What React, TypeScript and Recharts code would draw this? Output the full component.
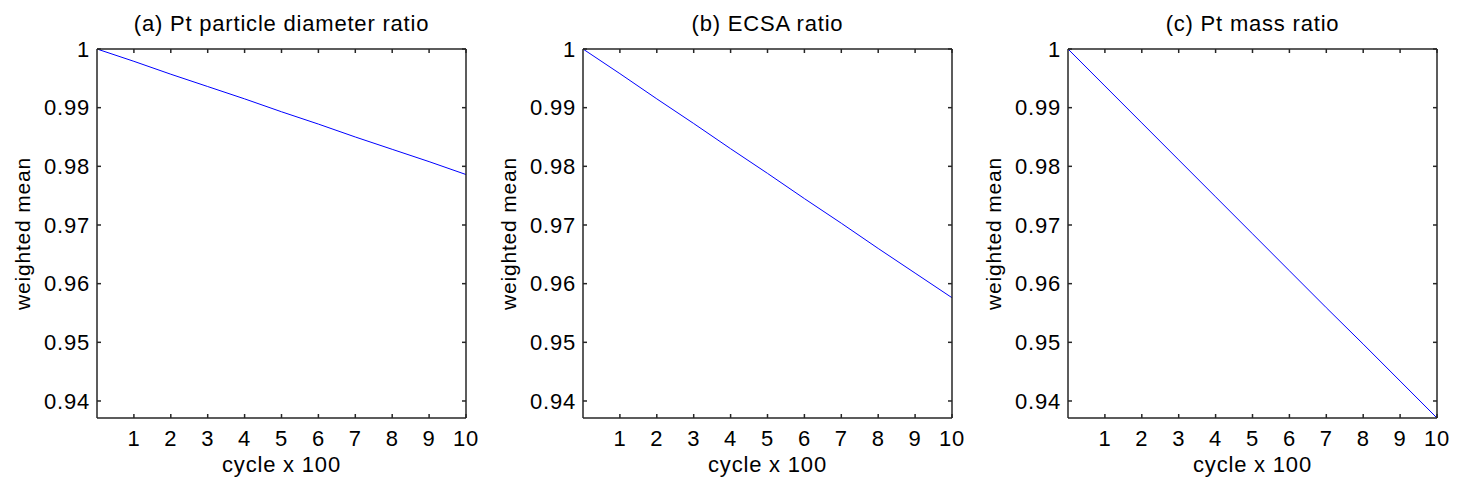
import { LineChart, Line, XAxis, YAxis } from "recharts";

// cycle number in hundreds
const cycles = [0, 1, 2, 3, 4, 5, 6, 7, 8, 9, 10];

// weighted means
const diameterRatio = [1.0, 0.9979, 0.9957, 0.9936, 0.9915, 0.9893, 0.9872, 0.985, 0.9829, 0.9808, 0.9786];
const ecsaRatio = [1.0, 0.9958, 0.9915, 0.9873, 0.983, 0.9788, 0.9745, 0.9703, 0.966, 0.9618, 0.9576];
const massRatio = [1.0, 0.9937, 0.9874, 0.9811, 0.9748, 0.9685, 0.9622, 0.9559, 0.9497, 0.9434, 0.9371];

const xTicks = [1, 2, 3, 4, 5, 6, 7, 8, 9, 10];
const yTicks = [0.94, 0.95, 0.96, 0.97, 0.98, 0.99, 1];

const titles = ["(a) Pt particle diameter ratio", "(b) ECSA ratio", "(c) Pt mass ratio"];
const panels = [diameterRatio, ecsaRatio, massRatio];

const FONT = "'Liberation Sans', Arial, Helvetica, sans-serif";
const AXIS = "#262626";
const tickStyle = { fill: "#000", fontSize: 22 };

const YTitle = ({ viewBox }: any) => {
  const x = viewBox.x + viewBox.width - 67;
  const y = viewBox.y + viewBox.height / 2;
  return (
    <text x={x} y={y} transform={`rotate(-90 ${x} ${y})`} textAnchor="middle" fontSize={21} fill="#000">
      weighted mean
    </text>
  );
};

function Panel({ title, values }: { title: string; values: number[] }) {
  const data = cycles.map((c, i) => ({ cycle: c, value: values[i] }));
  return (
    <LineChart width={486} height={490} data={data} margin={{ top: 48, right: 19, bottom: 12, left: 37 }}>
      <XAxis
        dataKey="cycle"
        type="number"
        domain={[0, 10]}
        ticks={xTicks}
        interval={0}
        height={60}
        stroke={AXIS}
        strokeWidth={1.5}
        tickSize={-4}
        tickMargin={16}
        tick={tickStyle}
        label={{ value: "cycle x 100", position: "insideBottom", offset: 6, fill: "#000", fontSize: 22 }}
      />
      {/* box top edge, carries the panel title */}
      <XAxis
        xAxisId="top"
        orientation="top"
        dataKey="cycle"
        type="number"
        domain={[0, 10]}
        ticks={xTicks}
        interval={0}
        height={1}
        stroke={AXIS}
        strokeWidth={1.5}
        tickSize={-4}
        tickFormatter={() => ""}
        label={{ value: title, position: "top", offset: 17, fill: "#000", fontSize: 22 }}
      />
      <YAxis
        type="number"
        domain={[0.9371, 1]}
        allowDataOverflow
        ticks={yTicks}
        interval={0}
        width={60}
        stroke={AXIS}
        strokeWidth={1.5}
        tickSize={-4}
        tickMargin={11}
        tick={tickStyle}
        label={YTitle}
      />
      {/* box right edge */}
      <YAxis
        yAxisId="right"
        orientation="right"
        type="number"
        domain={[0.9371, 1]}
        allowDataOverflow
        ticks={yTicks}
        interval={0}
        width={1}
        stroke={AXIS}
        strokeWidth={1.5}
        tickSize={-4}
        tickFormatter={() => ""}
      />
      <Line
        type="linear"
        dataKey="value"
        stroke="#0000ff"
        strokeWidth={1}
        dot={false}
        activeDot={false}
        isAnimationActive={false}
      />
      {/* invisible twin so the top/right axes get drawn */}
      <Line
        xAxisId="top"
        yAxisId="right"
        type="linear"
        dataKey="value"
        stroke="none"
        dot={false}
        activeDot={false}
        isAnimationActive={false}
      />
    </LineChart>
  );
}

export default function App() {
  return (
    <div
      style={{
        position: "absolute",
        left: 0,
        top: 0,
        width: 1461,
        height: 490,
        background: "#fff",
        fontFamily: FONT,
        letterSpacing: "0.8px",
      }}
    >
      {panels.map((values, i) => (
        <div key={titles[i]} style={{ position: "absolute", left: i === 2 ? 971 : i * 486, top: 0 }}>
          <Panel title={titles[i]} values={values} />
        </div>
      ))}
    </div>
  );
}
